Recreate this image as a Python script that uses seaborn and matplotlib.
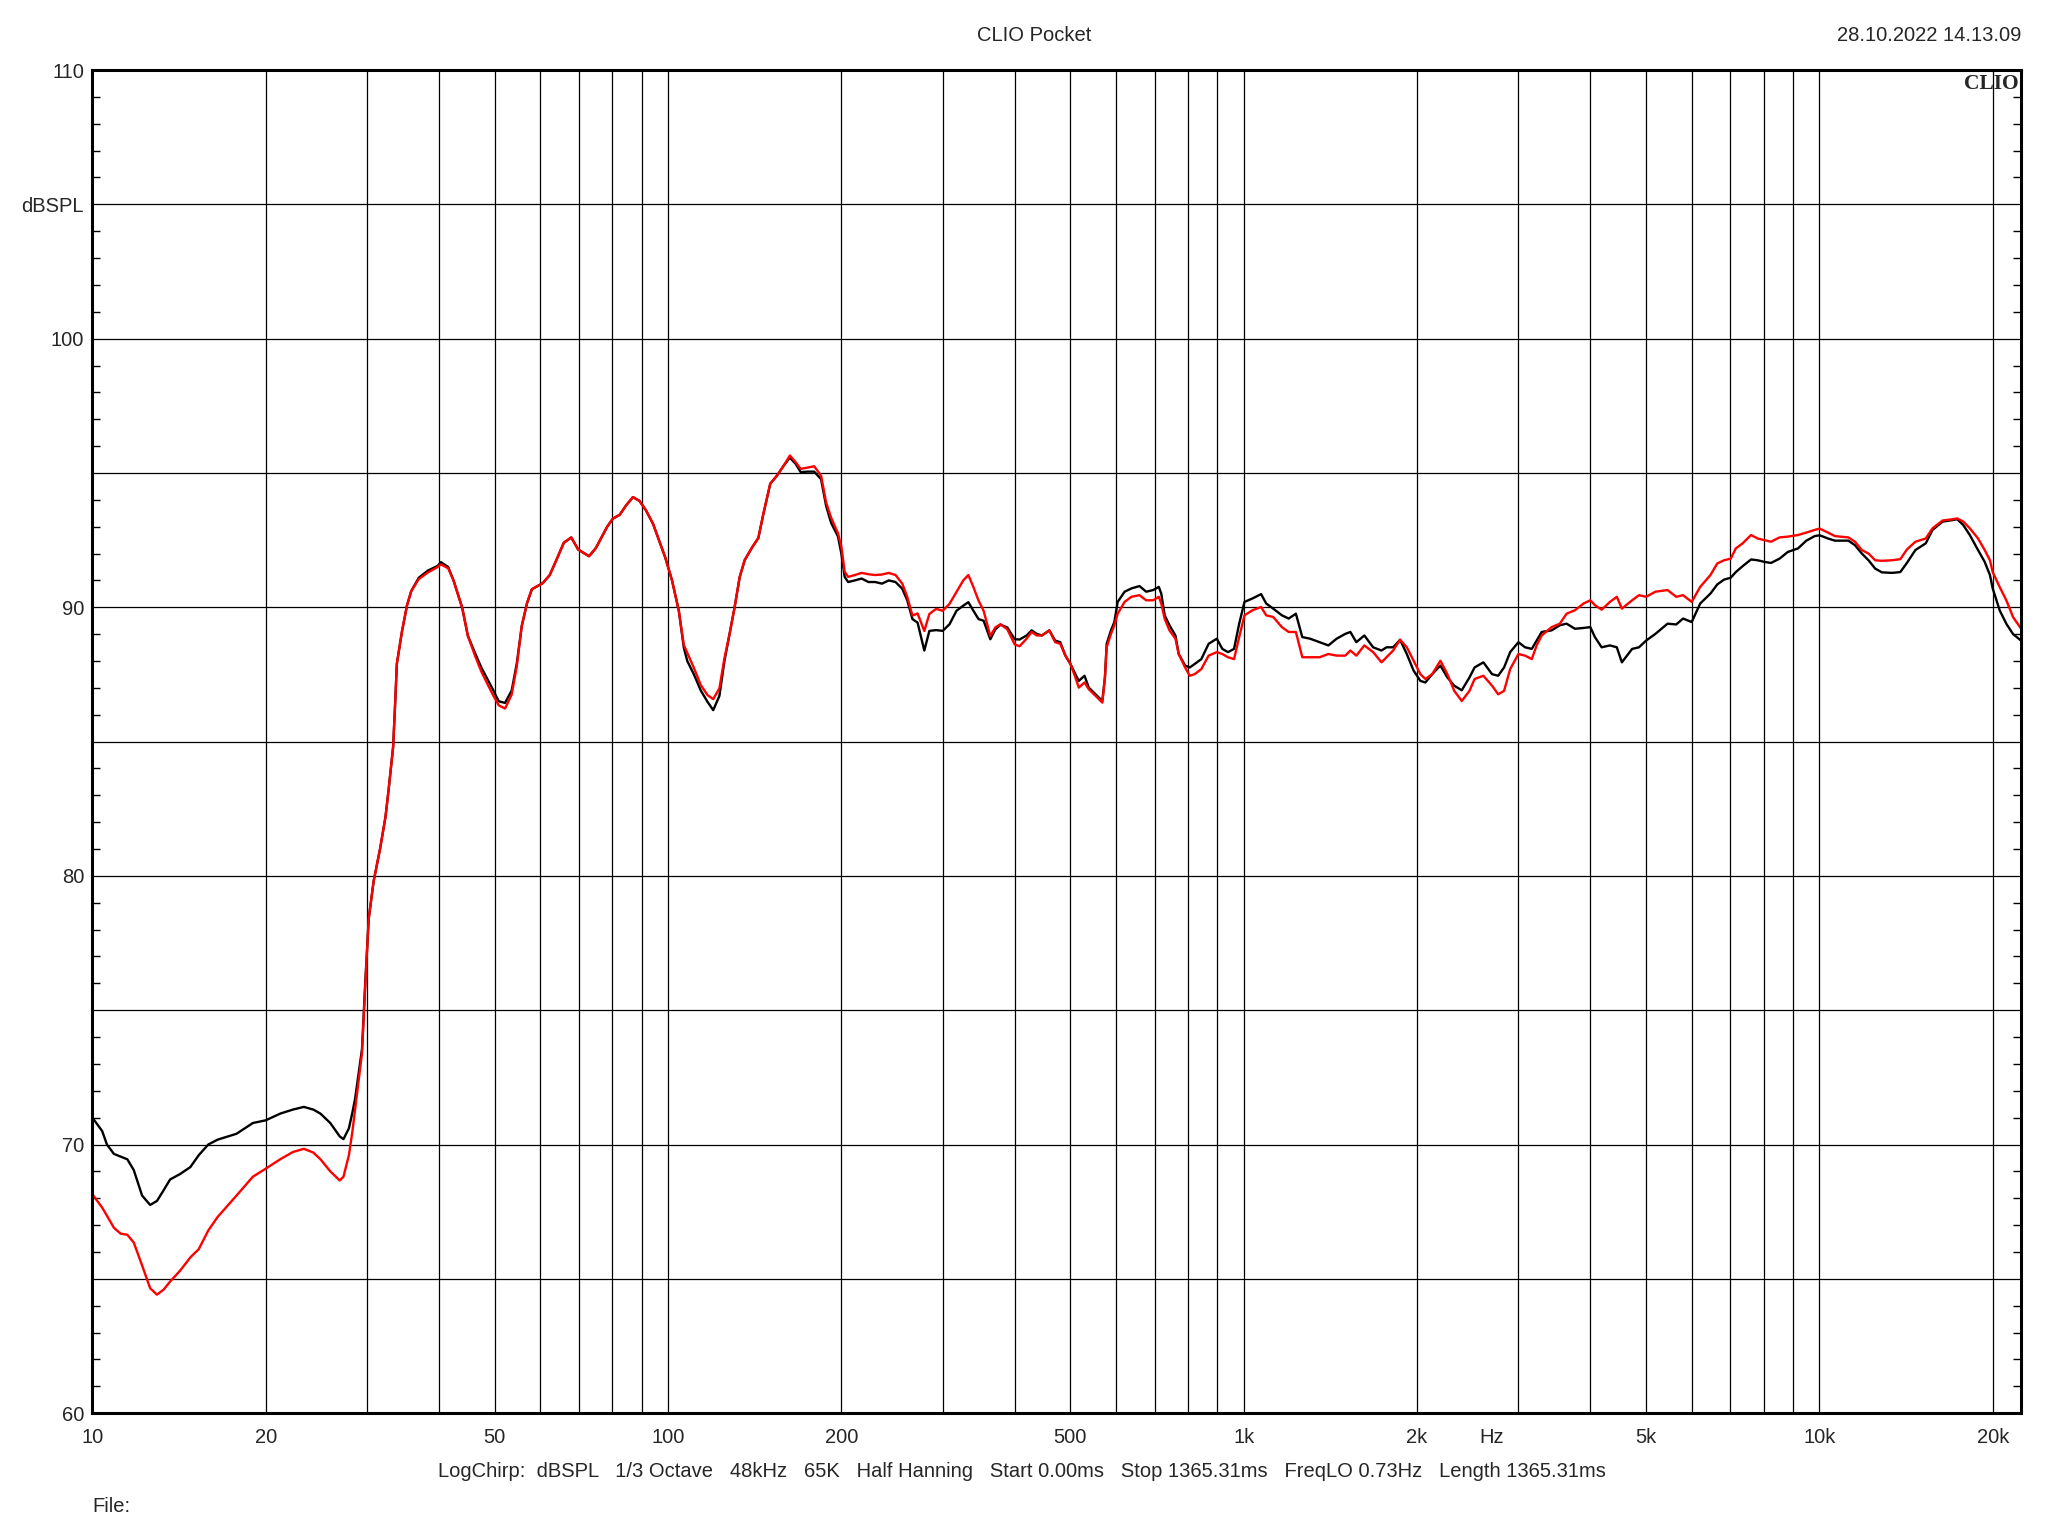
import numpy as np
import pandas as pd
import matplotlib
matplotlib.use("Agg")
import matplotlib.pyplot as plt
import matplotlib.ticker as mticker
import seaborn as sns

# frequency points (Hz) and the two measured traces (dBSPL)
freq = [
    10.0, 10.4, 10.6, 10.9, 11.2, 11.5, 11.8, 12.2, 12.6, 12.95,
    13.3, 13.65, 14.2, 14.8, 15.3, 15.9, 16.5, 17.8, 19.0, 20.0,
    21.2, 22.3, 23.3, 24.2, 24.9, 25.9, 26.9, 27.3, 27.9, 28.3,
    28.6, 29.4, 29.8, 30.2, 30.8, 31.6, 32.3, 32.7, 33.3, 33.6,
    33.8, 34.5, 35.2, 35.8, 36.9, 38.3, 39.8, 40.3, 41.5, 42.4,
    43.9, 44.9, 46.2, 47.4, 49.6, 50.8, 52.1, 53.5, 54.6, 55.7,
    56.9, 58.0, 60.6, 62.3, 64.1, 65.9, 67.9, 69.8, 72.9, 74.9,
    78.4, 80.2, 82.4, 84.6, 86.9, 89.2, 91.6, 94.2, 96.8, 98.9,
    101.6, 104.4, 106.5, 108.0, 110.9, 114.0, 117.1, 119.8, 122.8, 125.3,
    127.9, 130.5, 133.2, 135.9, 139.7, 143.5, 146.5, 150.5, 154.6, 158.9,
    162.8, 166.6, 170.0, 174.7, 179.4, 184.4, 188.2, 192.0, 197.3, 200.0,
    202.7, 205.5, 211.1, 216.9, 222.9, 229.0, 235.3, 241.8, 248.4, 255.2,
    260.4, 265.8, 271.3, 278.7, 284.4, 292.2, 300, 308.3, 317, 325.7,
    332.4, 339.2, 346.2, 353.3, 362.9, 370.3, 378, 388.4, 400, 408,
    419.6, 428.1, 437, 446, 459.5, 470.3, 480, 490, 500, 510,
    517, 529, 538, 553, 568, 574, 578, 588, 596, 604,
    621, 638, 659, 677, 696, 712, 719, 729, 743, 761,
    771, 791, 806, 822, 844, 869, 898, 918, 939, 962,
    982, 1003, 1036, 1072, 1094, 1125, 1165, 1197, 1232, 1264,
    1304, 1355, 1403, 1450, 1501, 1532, 1569, 1620, 1678, 1735,
    1770, 1818, 1869, 1920, 1973, 2027, 2068, 2125, 2196, 2258,
    2321, 2392, 2467, 2518, 2608, 2700, 2767, 2833, 2903, 3000,
    3081, 3165, 3227, 3293, 3426, 3541, 3637, 3762, 3893, 4000,
    4074, 4185, 4327, 4447, 4538, 4728, 4860, 5000, 5190, 5448,
    5640, 5796, 6000, 6208, 6467, 6646, 6829, 7014, 7157, 7356,
    7608, 7811, 8023, 8240, 8525, 8814, 9178, 9490, 9814, 10010,
    10350, 10640, 11230, 11530, 11850, 12170, 12500, 12840, 13370, 13820,
    14190, 14680, 15300, 15720, 16370, 17070, 17350, 17780, 18250, 18860,
    19370, 19780, 20000, 20570, 21130, 21700, 22430,
]

black_db = [
    71.0, 70.5, 70.0, 69.65, 69.55, 69.45, 69.05, 68.1, 67.75, 67.9,
    68.3, 68.7, 68.9, 69.16, 69.6, 70.0, 70.18, 70.4, 70.8, 70.9,
    71.15, 71.3, 71.4, 71.3, 71.15, 70.8, 70.3, 70.2, 70.6, 71.2,
    71.7, 73.55, 76.1, 78.4, 79.8, 81.0, 82.2, 83.2, 84.8, 86.6,
    87.9, 89.1, 90.07, 90.6, 91.1, 91.37, 91.54, 91.68, 91.5, 91.0,
    89.98, 88.94, 88.3, 87.75, 86.95, 86.5, 86.44, 86.9, 87.9, 89.3,
    90.16, 90.67, 90.9, 91.2, 91.8, 92.4, 92.6, 92.15, 91.9, 92.2,
    93.0, 93.3, 93.44, 93.8, 94.1, 93.96, 93.6, 93.1, 92.4, 91.85,
    91.0, 89.87, 88.5, 88.0, 87.5, 86.9, 86.48, 86.17, 86.7, 88.0,
    89.0, 90.0, 91.13, 91.76, 92.2, 92.58, 93.5, 94.6, 94.9, 95.28,
    95.57, 95.34, 95.03, 95.05, 95.05, 94.77, 93.77, 93.14, 92.64, 92.0,
    91.13, 90.94, 91.0, 91.07, 90.94, 90.94, 90.88, 91.0, 90.94, 90.69,
    90.25, 89.56, 89.43, 88.39, 89.12, 89.15, 89.12, 89.37, 89.87, 90.06,
    90.19, 89.87, 89.56, 89.5, 88.81, 89.18, 89.35, 89.25, 88.81, 88.8,
    88.95, 89.14, 89.01, 88.95, 89.14, 88.76, 88.7, 88.2, 87.89, 87.51,
    87.26, 87.45, 87.01, 86.76, 86.51, 87.39, 88.64, 89.14, 89.45, 90.2,
    90.58, 90.7, 90.79, 90.58, 90.64, 90.76, 90.51, 89.7, 89.33, 88.95,
    88.26, 87.83, 87.76, 87.89, 88.07, 88.64, 88.83, 88.45, 88.33, 88.45,
    89.39, 90.2, 90.33, 90.49, 90.14, 89.95, 89.7, 89.58, 89.76, 88.89,
    88.83, 88.7, 88.58, 88.83, 89.01, 89.08, 88.7, 88.95, 88.51, 88.39,
    88.51, 88.51, 88.79, 88.26, 87.64, 87.26, 87.2, 87.51, 87.83, 87.39,
    87.08, 86.91, 87.39, 87.76, 87.95, 87.51, 87.45, 87.76, 88.33, 88.7,
    88.51, 88.45, 88.76, 89.08, 89.14, 89.33, 89.39, 89.2, 89.23, 89.26,
    88.89, 88.51, 88.58, 88.51, 87.95, 88.45, 88.51, 88.76, 89.01, 89.39,
    89.36, 89.58, 89.45, 90.14, 90.51, 90.85, 91.03, 91.1, 91.31, 91.53,
    91.78, 91.75, 91.69, 91.65, 91.81, 92.06, 92.19, 92.48, 92.65, 92.68,
    92.56, 92.48, 92.48, 92.31, 92.0, 91.75, 91.44, 91.3, 91.28, 91.31,
    91.65, 92.13, 92.38, 92.88, 93.19, 93.25, 93.28, 93.06, 92.69, 92.13,
    91.69, 91.2, 90.7, 89.88, 89.38, 89.0, 88.75,
]

red_db = [
    68.15, 67.65, 67.35, 66.9, 66.68, 66.64, 66.35, 65.5, 64.65, 64.41,
    64.6, 64.9, 65.3, 65.8, 66.1, 66.8, 67.3, 68.1, 68.8, 69.1,
    69.45, 69.72, 69.84, 69.7, 69.45, 69.0, 68.66, 68.8, 69.6, 70.5,
    71.3, 73.4, 76.0, 78.4, 79.8, 81.0, 82.2, 83.2, 84.8, 86.6,
    87.9, 89.1, 90.07, 90.6, 91.05, 91.3, 91.5, 91.6, 91.45, 91.0,
    89.98, 88.94, 88.2, 87.6, 86.75, 86.35, 86.23, 86.75, 87.8, 89.3,
    90.16, 90.67, 90.9, 91.2, 91.8, 92.4, 92.6, 92.15, 91.9, 92.2,
    93.0, 93.3, 93.44, 93.8, 94.1, 93.96, 93.6, 93.1, 92.4, 91.85,
    91.0, 89.87, 88.6, 88.3, 87.74, 87.1, 86.73, 86.58, 86.98, 88.1,
    89.0, 90.0, 91.13, 91.76, 92.2, 92.58, 93.5, 94.6, 94.9, 95.28,
    95.65, 95.4, 95.15, 95.2, 95.25, 94.9, 93.9, 93.33, 92.76, 92.26,
    91.32, 91.13, 91.2, 91.28, 91.23, 91.2, 91.22, 91.28, 91.2, 90.88,
    90.38, 89.69, 89.77, 89.12, 89.75, 89.94, 89.87, 90.13, 90.57, 91.0,
    91.2, 90.75, 90.25, 89.87, 88.93, 89.25, 89.37, 89.18, 88.62, 88.55,
    88.83, 89.08, 88.95, 88.95, 89.14, 88.7, 88.64, 88.2, 87.89, 87.39,
    87.01, 87.2, 86.95, 86.7, 86.45, 87.39, 88.51, 89.01, 89.33, 89.76,
    90.2, 90.39, 90.45, 90.26, 90.26, 90.39, 90.14, 89.57, 89.14, 88.83,
    88.26, 87.76, 87.45, 87.51, 87.7, 88.2, 88.33, 88.26, 88.14, 88.07,
    88.89, 89.7, 89.89, 90.01, 89.7, 89.64, 89.26, 89.08, 89.08, 88.14,
    88.14, 88.14, 88.26, 88.2, 88.2, 88.39, 88.2, 88.58, 88.33, 87.95,
    88.14, 88.39, 88.79, 88.51, 88.01, 87.51, 87.33, 87.51, 88.01, 87.51,
    86.89, 86.51, 86.89, 87.33, 87.45, 87.08, 86.76, 86.89, 87.7, 88.26,
    88.2, 88.07, 88.58, 88.95, 89.26, 89.39, 89.76, 89.89, 90.14, 90.26,
    90.08, 89.91, 90.2, 90.39, 89.95, 90.26, 90.45, 90.39, 90.58, 90.64,
    90.39, 90.45, 90.2, 90.76, 91.2, 91.63, 91.75, 91.81, 92.19, 92.38,
    92.69, 92.56, 92.5, 92.44, 92.6, 92.63, 92.69, 92.78, 92.88, 92.93,
    92.78, 92.65, 92.6, 92.44, 92.13, 92.0, 91.75, 91.73, 91.75, 91.79,
    92.15, 92.44, 92.56, 92.94, 93.23, 93.28, 93.31, 93.19, 92.94, 92.56,
    92.13, 91.75, 91.31, 90.75, 90.25, 89.63, 89.19,
]

x_ticks = [10, 20, 50, 100, 200, 500, 1000, 2000, 5000, 10000, 20000]
x_labels = ["10", "20", "50", "100", "200", "500", "1k", "2k", "5k", "10k", "20k"]
x_minor = [30, 40, 60, 70, 80, 90, 300, 400, 600, 700, 800, 900,
           3000, 4000, 6000, 7000, 8000, 9000]
y_ticks = [60, 65, 70, 75, 80, 85, 90, 95, 100, 105, 110]
y_labels = ["60", "", "70", "", "80", "", "90", "", "100", "dBSPL", "110"]

title = "CLIO Pocket"
stamp = "28.10.2022 14.13.09"
info = ("LogChirp:  dBSPL   1/3 Octave   48kHz   65K   Half Hanning   Start 0.00ms   "
        "Stop 1365.31ms   FreqLO 0.73Hz   Length 1365.31ms")

sns.set_style("white")
plt.rcParams['font.family'] = ['Liberation Sans', 'DejaVu Sans']
fs = 14.5

df = pd.DataFrame({
    "freq": freq + freq,
    "level": black_db + red_db,
    "trace": ["black"] * len(freq) + ["red"] * len(freq),
})

fig = plt.figure(figsize=(20.48, 15.36), dpi=100)
ax = fig.add_axes([0.0451, 0.080, 0.987 - 0.0451, 0.9544 - 0.080])

sns.lineplot(data=df, x="freq", y="level", hue="trace", hue_order=["black", "red"],
             palette={"black": "#000000", "red": "#ff0000"}, estimator=None,
             linewidth=1.7, legend=False, ax=ax)

ax.set_xscale("log")
ax.set_xlim(10, 22430)
ax.set_ylim(60, 110)

ax.xaxis.set_major_locator(mticker.FixedLocator(x_ticks))
ax.xaxis.set_major_formatter(mticker.FixedFormatter(x_labels))
ax.xaxis.set_minor_locator(mticker.FixedLocator(x_minor))
ax.xaxis.set_minor_formatter(mticker.NullFormatter())
ax.yaxis.set_major_locator(mticker.FixedLocator(y_ticks))
ax.yaxis.set_major_formatter(mticker.FixedFormatter(y_labels))
ax.yaxis.set_minor_locator(mticker.MultipleLocator(1))

ax.grid(True, which="major", axis="both", color="black", linewidth=0.9)
ax.grid(True, which="minor", axis="x", color="black", linewidth=0.9)
ax.set_axisbelow(True)

ax.tick_params(axis="x", which="both", length=0, labelsize=fs, pad=11)
ax.tick_params(axis="y", which="major", length=0, labelsize=fs, pad=6)
ax.tick_params(axis="y", which="minor", direction="in", length=5.5, width=1,
               left=True, right=True, color="black")

for s in ax.spines.values():
    s.set_color("black")
    s.set_linewidth(2.2)

ax.set_xlabel("")
ax.set_ylabel("")

ax.text(2700, -0.0112, "Hz", transform=ax.get_xaxis_transform(), ha="center",
        va="top", fontsize=fs)
ax.text(0.9985, 0.997, "CLIO", transform=ax.transAxes, ha="right", va="top",
        fontsize=15.5, fontweight="bold", family=["Liberation Serif", "DejaVu Serif"])

fig.text(0.505, 0.977, title, ha="center", va="center", fontsize=fs)
fig.text(0.987, 0.977, stamp, ha="right", va="center", fontsize=fs)
fig.text(0.499, 0.042, info, ha="center", va="center", fontsize=fs)
fig.text(0.0451, 0.0195, "File:", ha="left", va="center", fontsize=fs)

fig.savefig("out.png", dpi=100)
